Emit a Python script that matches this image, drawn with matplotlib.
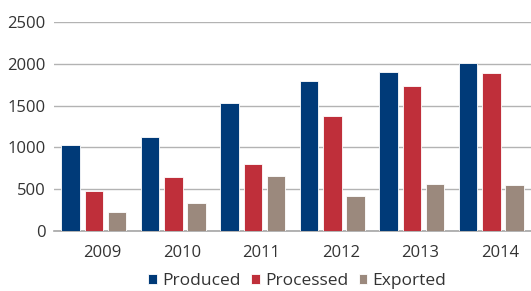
import numpy as np
import matplotlib.pyplot as plt
import matplotlib.transforms as mtransforms

plt.rcParams['font.family'] = ['Open Sans', 'DejaVu Sans']

years = ['2009', '2010', '2011', '2012', '2013', '2014']
produced = [1030, 1130, 1530, 1800, 1900, 2010]
processed = [475, 645, 805, 1375, 1730, 1890]
exported = [228, 330, 655, 420, 562, 548]

c_prod = '#003a78'
c_proc = '#bf2f3a'
c_exp = '#9b897d'

fig = plt.figure(figsize=(5.31, 2.91), dpi=100)
ax = fig.add_axes([0.102, 0.206, 0.898, 0.718])

x = np.arange(len(years))
w = 0.233
step = 0.293
ax.bar(x - step, produced, w, color=c_prod, edgecolor='white', linewidth=0.6, label='Produced', zorder=3)
ax.bar(x, processed, w, color=c_proc, edgecolor='white', linewidth=0.6, label='Processed', zorder=3)
ax.bar(x + step, exported, w, color=c_exp, edgecolor='white', linewidth=0.6, label='Exported', zorder=3)

ax.set_xlim(-0.5, 5.5)
ax.set_ylim(0, 2500)
ax.set_yticks([0, 500, 1000, 1500, 2000, 2500])
ax.set_xticks(x)
ax.set_xticklabels(years)
ax.yaxis.grid(True, color='#b3b3b3', linewidth=1.0, zorder=0)
ax.set_axisbelow(True)
for s in ['top', 'right', 'left']:
    ax.spines[s].set_visible(False)
ax.spines['bottom'].set_color('#a6a6a6')
ax.spines['bottom'].set_linewidth(1.2)
ax.tick_params(axis='both', length=0, labelsize=12, labelcolor='#333333')
ax.tick_params(axis='y', pad=6)
ax.tick_params(axis='x', pad=10)

# year labels sit a little right of the group centre
off = mtransforms.ScaledTranslation(8.5 / 100, 0, fig.dpi_scale_trans)
for lbl in ax.get_xticklabels():
    lbl.set_transform(lbl.get_transform() + off)

leg = ax.legend(loc='upper center', bbox_to_anchor=(0.51, -0.168), ncol=3, frameon=False,
                fontsize=12.5, handlelength=0.5, handleheight=0.5, handletextpad=0.3,
                columnspacing=0.6, borderaxespad=0)
for t in leg.get_texts():
    t.set_color('#333333')

fig.savefig('out.png', dpi=100)
